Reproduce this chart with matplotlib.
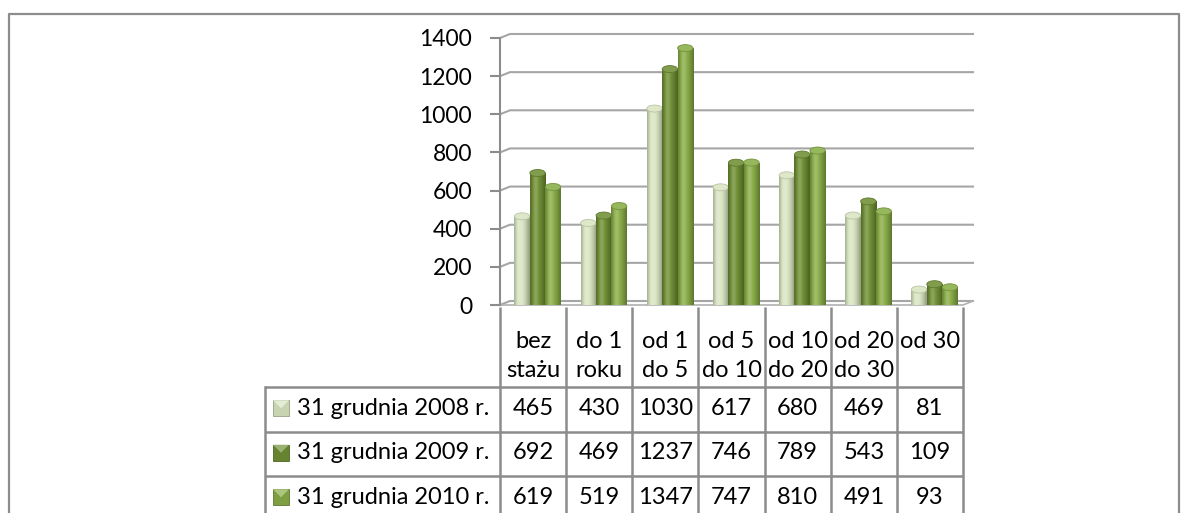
import numpy as np
import matplotlib
matplotlib.use("Agg")
import matplotlib.pyplot as plt
from matplotlib.patches import Rectangle, Ellipse, Polygon
import matplotlib.colors as mcolors

# ---------------- data ----------------
categories = ["bez\nstażu", "do 1\nroku", "od 1\ndo 5", "od 5\ndo 10",
              "od 10\ndo 20", "od 20\ndo 30", "od 30"]
series_names = ["31 grudnia 2008 r.", "31 grudnia 2009 r.", "31 grudnia 2010 r."]
values_2008 = [465, 430, 1030, 617, 680, 469, 81]
values_2009 = [692, 469, 1237, 746, 789, 543, 109]
values_2010 = [619, 519, 1347, 747, 810, 491, 93]
yticks = [0, 200, 400, 600, 800, 1000, 1200, 1400]

series_values = [values_2008, values_2009, values_2010]
series_colors = ["#d9e5c2", "#6f8f34", "#89ad47"]

# ---------------- layout (pixels) ----------------
W, H = 1186, 513
DPI = 100
FONT = "Lato"
FS = 17
FS_TICK = 16.5
GRAY = "#8c8c8c"

fig = plt.figure(figsize=(W / DPI, H / DPI), dpi=DPI)
fig.patch.set_facecolor("white")

# overlay axes in pixel coordinates (frame + data table)
ov = fig.add_axes([0, 0, 1, 1])
ov.set_xlim(0, W)
ov.set_ylim(H, 0)
ov.axis("off")

# main plot axes
ax_left, ax_right = 500, 973
y0_px, ytop_px = 305, 38
cat_w = 66.15
ax = fig.add_axes([ax_left / W, (H - y0_px) / H, (ax_right - ax_left) / W,
                   (y0_px - ytop_px) / H])
ax.set_facecolor("none")
ax.set_ylim(0, 1400)
ax.set_xlim(-0.5, -0.5 + (ax_right - ax_left) / cat_w)
for s in ax.spines.values():
    s.set_visible(False)
ax.set_xticks([])
ax.set_yticks(yticks)
ax.set_yticklabels([str(t) for t in yticks], fontsize=FS_TICK, family=FONT)
ax.tick_params(axis="y", length=7, width=1.5, color=GRAY, pad=13)

# y axis line
ax.plot([-0.5, -0.5], [0, 1400], color=GRAY, lw=1.5, clip_on=False, zorder=3)

# back-wall gridlines with small perspective diagonal
depth_x = 10 / cat_w
depth_y = 4 * 1400 / (y0_px - ytop_px)
for t in yticks:
    ax.plot([-0.5, -0.5 + depth_x, -0.5 + (ax_right - ax_left) / cat_w],
            [t, t + depth_y, t + depth_y], color="#a6a6a6", lw=1.5,
            clip_on=False, zorder=1)
# floor front edge
ncat = len(categories)
ax.plot([-0.5, ncat - 0.5, ncat - 0.5 + depth_x], [0, 0, depth_y],
        color="#b0b0b0", lw=1.2, clip_on=False, zorder=1)


def shade(color, f):
    r, g, b = mcolors.to_rgb(color)
    if f >= 1:
        k = f - 1
        return (r + (1 - r) * k, g + (1 - g) * k, b + (1 - b) * k)
    return (r * f, g * f, b * f)


profile = [0.78, 0.95, 1.12, 1.22, 1.15, 1.02, 0.95, 0.88, 0.8, 0.7]

bar_w = 15.4 / cat_w
offset0 = 4.5 / cat_w
cap_h = 7 * 1400 / (y0_px - ytop_px)
x = np.arange(ncat)
for j, (vals, col) in enumerate(zip(series_values, series_colors)):
    xs = x + offset0 + (j - 1) * bar_w
    bars = ax.bar(xs, vals, width=bar_w, color=col, linewidth=0, zorder=4 + j)
    grad = np.array([[shade(col, f) for f in profile]])
    for b in bars:
        bx, by = b.get_x(), b.get_y()
        bw, bh = b.get_width(), b.get_height()
        im = ax.imshow(grad, extent=(bx, bx + bw, by, by + bh), aspect="auto",
                       interpolation="bicubic", zorder=4 + j)
        im.set_clip_path(b)
        cap = Ellipse((bx + bw / 2, by + bh), bw, cap_h,
                      facecolor=shade(col, 1.12), edgecolor=shade(col, 0.85),
                      lw=0.6, zorder=4.5 + j)
        ax.add_patch(cap)
ax.set_xlim(-0.5, -0.5 + (ax_right - ax_left) / cat_w)
ax.set_ylim(0, 1400)

# ---------------- outer frame ----------------
ov.plot([9, 9, 1179, 1179], [H + 5, 14, 14, H + 5], color=GRAY, lw=1.6)

# ---------------- data table ----------------
col_edges = [ax_left + cat_w * i for i in range(ncat + 1)]
leg_left = 265
hdr_top, hdr_bot = 307, 387
row_h = 44.5
row_edges = [hdr_bot + row_h * k for k in range(len(series_names) + 1)]
lw_t = 1.8

# header vertical lines
for xe in col_edges:
    ov.plot([xe, xe], [hdr_top, row_edges[-1] + 10], color=GRAY, lw=lw_t,
            solid_capstyle="butt")
# horizontal row lines
for k, ye in enumerate(row_edges):
    ov.plot([leg_left, col_edges[-1]], [ye, ye], color=GRAY, lw=lw_t,
            solid_capstyle="butt")
ov.plot([leg_left, leg_left], [hdr_bot, H + 5], color=GRAY, lw=lw_t)

# header labels
for i, lab in enumerate(categories):
    cx = (col_edges[i] + col_edges[i + 1]) / 2
    for li, line in enumerate(lab.split("\n")):
        ov.text(cx, 342 + 28.5 * li, line, ha="center", va="center",
                fontsize=FS, family=FONT, color="black")

# rows
for k, (name, vals, col) in enumerate(zip(series_names, series_values,
                                          series_colors)):
    cy = (row_edges[k] + row_edges[k + 1]) / 2 - 1
    # legend key (bevelled square)
    kx, ks = 273, 16
    ov.add_patch(Rectangle((kx, cy - ks / 2), ks, ks, facecolor=shade(col, 0.92),
                           edgecolor=shade(col, 0.7), lw=0.6))
    ov.add_patch(Polygon([(kx, cy - ks / 2), (kx + ks, cy - ks / 2),
                          (kx + ks / 2, cy)], closed=True,
                         facecolor=shade(col, 1.3), edgecolor="none"))
    ov.text(297, cy, name, ha="left", va="center", fontsize=FS, family=FONT)
    for i, v in enumerate(vals):
        cx = (col_edges[i] + col_edges[i + 1]) / 2
        ov.text(cx, cy, str(v), ha="center", va="center", fontsize=FS,
                family=FONT)

fig.savefig("out.png", dpi=DPI, facecolor="white")
